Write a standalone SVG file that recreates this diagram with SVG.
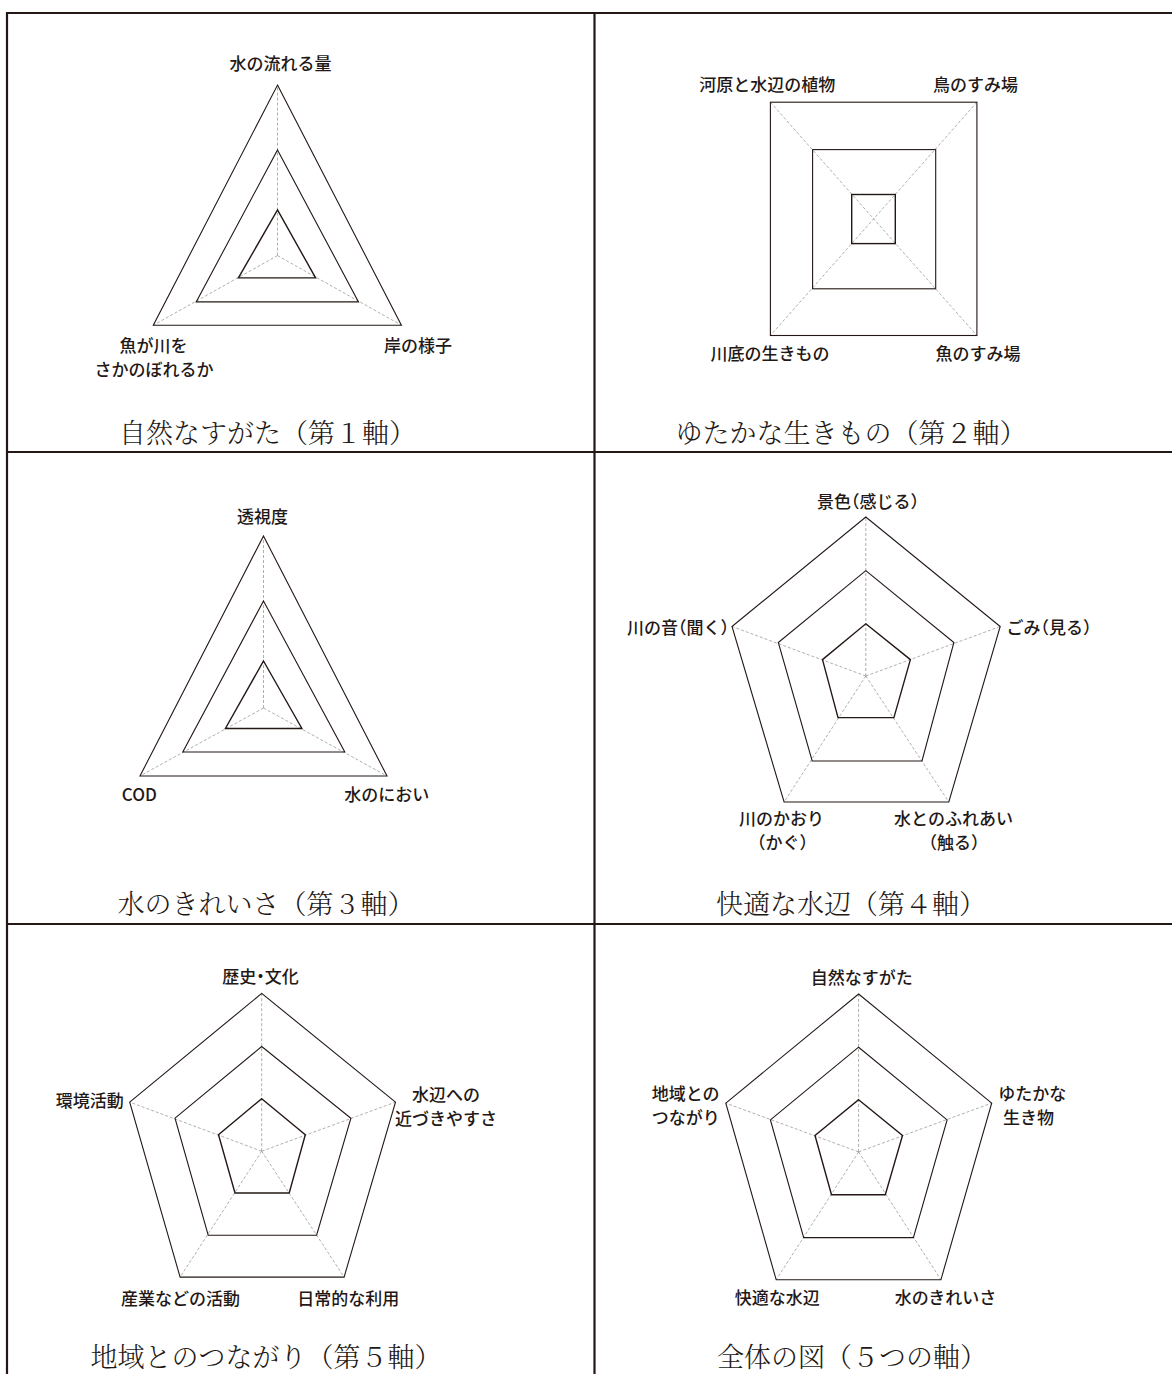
<svg xmlns="http://www.w3.org/2000/svg" width="1172" height="1374" viewBox="0 0 1172 1374">
<style>
.frame{stroke:#231815;stroke-width:2.2;fill:none}
.g{fill:none;stroke:#231815;stroke-width:1.1;stroke-linejoin:miter}
.gi{fill:none;stroke:#231815;stroke-width:1.4}
.ax{stroke:#8c8c8c;stroke-width:0.7;stroke-dasharray:3 2;fill:none}
.lb{font-family:"Noto Sans CJK JP","Noto Sans",sans-serif;font-size:17px;font-weight:500;fill:#231815;text-anchor:middle;font-feature-settings:"halt"}
.tt{font-family:"Noto Serif CJK JP","Noto Sans CJK JP",serif;font-size:27px;font-weight:300;fill:#231815;text-anchor:middle}
</style>
<rect width="1172" height="1374" fill="#fff"/>
<g id="frame">
<path class="frame" d="M7,1374 V13 H1172 M594.5,13 V1374 M7,452 H1172 M7,924 H1172"/>
</g>

<g id="panel1">
<g class="axes">
<path class="ax" d="M277.5,255.6 L277.5,85.1 M277.5,255.6 L401.4,325.2 M277.5,255.6 L153.3,325.2"/>
</g>
<polygon class="g" points="277.5,85.1 401.4,325.2 153.3,325.2"/>
<polygon class="g" points="277.5,149.9 358.5,301.9 196.2,301.9"/>
<polygon class="gi" points="277.5,209.9 315.6,277.9 238.4,277.9"/>
<text class="lb" x="280.4" y="70">水の流れる量</text>
<text class="lb" x="153.6" y="352">魚が川を</text>
<text class="lb" x="154" y="376">さかのぼれるか</text>
<text class="lb" x="418" y="352">岸の様子</text>
<text class="tt" x="267.6" y="443">自然なすがた（第１軸）</text>
</g>

<g id="panel2">
<g class="axes">
<path class="ax" d="M770.4,102.2 L976.9,335.5 M976.9,102.2 L770.4,335.5"/>
</g>
<rect class="g" x="770.4" y="102.2" width="206.5" height="233.3"/>
<rect class="g" x="812.6" y="149.6" width="123.1" height="139.2"/>
<rect class="gi" x="851.7" y="194.5" width="43.6" height="49.1"/>
<text class="lb" x="767.3" y="91">河原と水辺の植物</text>
<text class="lb" x="975.4" y="91">鳥のすみ場</text>
<text class="lb" x="769.9" y="360">川底の生きもの</text>
<text class="lb" x="978" y="360">魚のすみ場</text>
<text class="tt" x="851" y="443">ゆたかな生きもの（第２軸）</text>
</g>

<g id="panel3">
<g class="axes">
<path class="ax" d="M263.5,708 L263.5,536 M263.5,708 L387,776 M263.5,708 L140,776"/>
</g>
<polygon class="g" points="263.5,536 387,776 140,776"/>
<polygon class="g" points="263.5,601 344.8,752 182.8,752"/>
<polygon class="gi" points="263.5,661 301.9,728.5 225.4,728.5"/>
<text class="lb" x="262.6" y="523">透視度</text>
<text class="lb" x="139.3" y="801">COD</text>
<text class="lb" x="386.8" y="801">水のにおい</text>
<text class="tt" x="266" y="914">水のきれいさ（第３軸）</text>
</g>

<g id="panel4">
<g class="axes">
<path class="ax" d="M865.8,676 L865.8,517 M865.8,676 L1000.2,626.5 M865.8,676 L948.8,802 M865.8,676 L784.1,802 M865.8,676 L732,626.5"/>
</g>
<polygon class="g" points="865.8,517 1000.2,626.5 948.8,802 784.1,802 732,626.5"/>
<polygon class="g" points="865.8,570.6 953.9,642.5 922,761 812.2,761 778.3,642.5"/>
<polygon class="gi" points="865.8,623.8 910.4,659.6 893.9,717.6 838,717.6 822.5,659.6"/>
<text class="lb" x="868" y="508">景色（感じる）</text>
<text class="lb" x="1049" y="634">ごみ（見る）</text>
<text class="lb" x="678" y="634">川の音（聞く）</text>
<text class="lb" x="781.5" y="825">川のかおり</text>
<text class="lb" x="782.4" y="849">（かぐ）</text>
<text class="lb" x="953.5" y="825">水とのふれあい</text>
<text class="lb" x="954" y="849">（触る）</text>
<text class="tt" x="851" y="914">快適な水辺（第４軸）</text>
</g>

<g id="panel5">
<g class="axes">
<path class="ax" d="M261.7,1151.2 L261.7,993.4 M261.7,1151.2 L395.5,1102.1 M261.7,1151.2 L344.1,1277.1 M261.7,1151.2 L180.1,1277.1 M261.7,1151.2 L129.7,1102.1"/>
</g>
<polygon class="g" points="261.7,993.4 395.5,1102.1 344.1,1277.1 180.1,1277.1 129.7,1102.1"/>
<polygon class="g" points="261.7,1046.5 350.9,1118.2 316.6,1235.2 208.2,1235.2 175,1118.2"/>
<polygon class="gi" points="261.7,1098.7 305.3,1134.7 289.2,1193 235,1193 218.5,1134.7"/>
<text class="lb" x="260.4" y="983">歴史・文化</text>
<text class="lb" x="89.7" y="1107">環境活動</text>
<text class="lb" x="446" y="1101">水辺への</text>
<text class="lb" x="446" y="1125">近づきやすさ</text>
<text class="lb" x="180.6" y="1305">産業などの活動</text>
<text class="lb" x="348.2" y="1305">日常的な利用</text>
<text class="tt" x="266" y="1367">地域とのつながり（第５軸）</text>
</g>

<g id="panel6">
<g class="axes">
<path class="ax" d="M858.6,1151.9 L858.6,994 M858.6,1151.9 L991.7,1103.1 M858.6,1151.9 L940.9,1279.8 M858.6,1151.9 L776.2,1279.8 M858.6,1151.9 L725.8,1103.1"/>
</g>
<polygon class="g" points="858.6,994 991.7,1103.1 940.9,1279.8 776.2,1279.8 725.8,1103.1"/>
<polygon class="g" points="858.6,1047.2 947.1,1119.9 913.4,1237.6 803.7,1237.6 770.4,1119.9"/>
<polygon class="gi" points="858.6,1099.7 902.5,1135.4 885.3,1194.7 831.5,1194.7 815,1135.4"/>
<text class="lb" x="861.8" y="984">自然なすがた</text>
<text class="lb" x="685.7" y="1100">地域との</text>
<text class="lb" x="685.8" y="1124">つながり</text>
<text class="lb" x="1032.3" y="1100">ゆたかな</text>
<text class="lb" x="1028.5" y="1124">生き物</text>
<text class="lb" x="777.3" y="1304">快適な水辺</text>
<text class="lb" x="945.4" y="1304">水のきれいさ</text>
<text class="tt" x="851.9" y="1367">全体の図（５つの軸）</text>
</g>
</svg>
